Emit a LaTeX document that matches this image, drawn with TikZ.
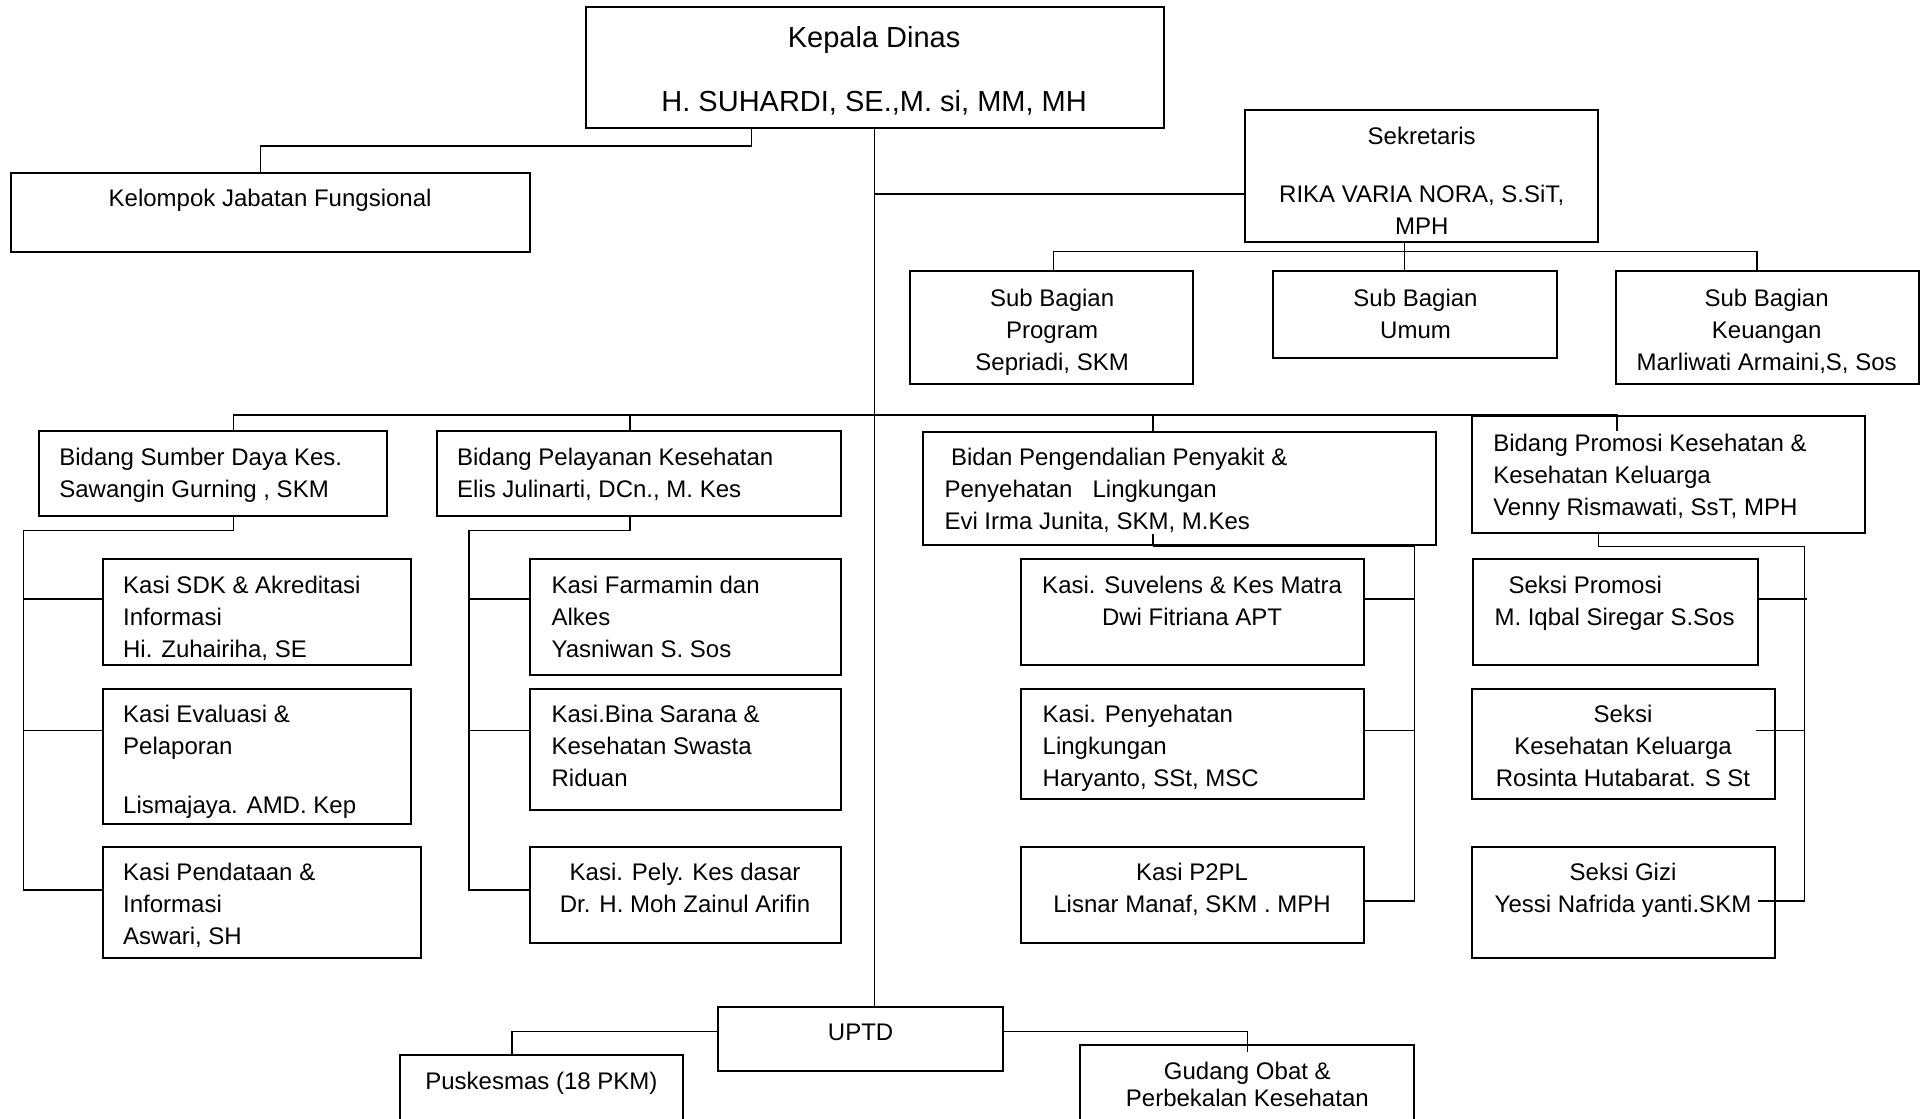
\documentclass[tikz,border=0pt]{standalone}
\usepackage{fontspec}
\setmainfont{Liberation Sans}
\usetikzlibrary{fit}

\tikzset{
  box/.style={draw, line width=1pt, inner sep=0pt},
  txt/.style={inner sep=0pt, anchor=north west, align=left, font=\fontsize{12}{16}\selectfont},
  ctxt/.style={txt, anchor=north, align=center},
  link/.style={line width=0.7pt},
}

\begin{document}
\begin{tikzpicture}[x=0.61385pt, y=-0.61385pt]
  \useasboundingbox (0,0) rectangle (1568,911);

  % boxes
  \node[box, fit={(477,6)(948,104)}] (kepala) {};
  \node[box, fit={(9,141)(432,205)}] (kelompok) {};
  \node[box, fit={(1014,90)(1302,197)}] (sekr) {};
  \node[box, fit={(741,221)(972,313)}] (prog) {};
  \node[box, fit={(1037,221)(1268,292)}] (umum) {};
  \node[box, fit={(1316,221)(1563,313)}] (keu) {};
  \node[box, fit={(32,351)(315,420)}] (sdm) {};
  \node[box, fit={(356,351)(685,420)}] (yan) {};
  \node[box, fit={(752,352)(1170,444)}] (p2) {};
  \node[box, fit={(1199,339)(1519,434)}] (promkes) {};
  \node[box, fit={(84,455)(335,542)}] (sdk) {};
  \node[box, fit={(84,561)(335,671)}] (eval) {};
  \node[box, fit={(84,690)(343,780)}] (pend) {};
  \node[box, fit={(432,455)(685,550)}] (farm) {};
  \node[box, fit={(432,561)(685,660)}] (bina) {};
  \node[box, fit={(432,690)(685,768)}] (pely) {};
  \node[box, fit={(832,455)(1111,542)}] (suv) {};
  \node[box, fit={(832,561)(1111,651)}] (penyl) {};
  \node[box, fit={(832,690)(1111,768)}] (p2pl) {};
  \node[box, fit={(1200,455)(1432,542)}] (prom) {};
  \node[box, fit={(1199,561)(1446,651)}] (kk) {};
  \node[box, fit={(1199,690)(1446,780)}] (gizi) {};
  \node[box, fit={(585,820)(817,872)}] (uptd) {};
  \node[box, fit={(326,859)(556,916)}] (pusk) {};
  \node[box, fit={(880,851)(1152,916)}] (gudang) {};

  % texts
  \node[ctxt, font=\fontsize{14.5}{17.5}\selectfont] (kepala-t) at (712,21) {Kepala Dinas\\[14.8pt]H. SUHARDI, SE.,M. si, MM, MH};
  \node[ctxt] (kelompok-t) at (220,154) {Kelompok Jabatan Fungsional};
  \node[ctxt] (sekr-t) at (1158,103) {Sekretaris\\[12.9pt]RIKA VARIA NORA, S.SiT,\\MPH};
  \node[ctxt] (prog-t) at (857,235) {Sub Bagian\\Program\\Sepriadi, SKM};
  \node[ctxt] (umum-t) at (1153,235) {Sub Bagian\\Umum};
  \node[ctxt] (keu-t) at (1439,235) {Sub Bagian\\Keuangan\\Marliwati Armaini,S, Sos};
  \node[txt] (sdm-t) at (48,365) {Bidang Sumber Daya Kes.\\Sawangin Gurning , SKM};
  \node[txt] (yan-t) at (372,365) {Bidang Pelayanan Kesehatan\\Elis Julinarti, DCn., M. Kes};
  \node[txt] (p2-t) at (769,365) {\hspace*{3.3pt}Bidan Pengendalian Penyakit \&\\Penyehatan~~~Lingkungan\\Evi Irma Junita, SKM, M.Kes};
  \node[txt] (promkes-t) at (1216,353) {Bidang Promosi Kesehatan \&\\Kesehatan Keluarga\\Venny Rismawati, SsT, MPH};
  \node[txt] (sdk-t) at (100,469) {Kasi SDK \& Akreditasi\\Informasi\\Hi. Zuhairiha, SE};
  \node[txt] (eval-t) at (100,574) {Kasi Evaluasi \&\\Pelaporan\\[13.5pt]Lismajaya. AMD. Kep};
  \node[txt] (pend-t) at (100,703) {Kasi Pendataan \&\\Informasi\\Aswari, SH};
  \node[txt] (farm-t) at (449,469) {Kasi Farmamin dan\\Alkes\\Yasniwan S. Sos};
  \node[txt] (bina-t) at (449,574) {Kasi.Bina Sarana \&\\Kesehatan Swasta\\Riduan};
  \node[ctxt] (pely-t) at (558,703) {Kasi. Pely. Kes dasar\\Dr. H. Moh Zainul Arifin};
  \node[ctxt] (suv-t) at (971,469) {Kasi. Suvelens \& Kes Matra\\Dwi Fitriana APT};
  \node[txt] (penyl-t) at (849,574) {Kasi. Penyehatan\\Lingkungan\\Haryanto, SSt, MSC};
  \node[ctxt] (p2pl-t) at (971,703) {Kasi P2PL\\Lisnar Manaf, SKM . MPH};
  \node[txt] (prom-t) at (1217,469) {\hspace*{7pt}Seksi Promosi\\M. Iqbal Siregar S.Sos};
  \node[ctxt] (kk-t) at (1322,574) {Seksi\\Kesehatan Keluarga\\Rosinta Hutabarat. S St};
  \node[ctxt] (gizi-t) at (1322,703) {Seksi Gizi\\Yessi Nafrida yanti.SKM};
  \node[ctxt] (uptd-t) at (701,834) {UPTD};
  \node[ctxt] (pusk-t) at (441,873) {Puskesmas (18 PKM)};
  \node[ctxt] (gudang-t) at (1016,865) {Gudang Obat \&\\[-2.5pt]Perbekalan Kesehatan};

  % Kepala Dinas
  \draw[link] (kepala.south -| 612,0) |- (212,119) -- (kelompok.north -| 212,0);
  \draw[link] (kepala.south) -- (kepala.south |- uptd.north);
  \draw[link] (kepala.south |- 0,158) -- (sekr.west |- 0,158);

  % Sekretaris
  \draw[link] (sekr.south -| 1144,0) -- (umum.north -| 1144,0);
  \draw[link] (prog.north -| 858,0) -- (858,205) -- (1431,205) -- (keu.north -| 1431,0);

  % Bidang
  \draw[link] (sdm.north -| 190,0) |- (1317,338) -- ++(0,13);
  \draw[link] (yan.north -| 513,0) -- ++(0,-13);
  \draw[link] (p2.north -| 939,0) -- ++(0,-14);

  % Sumber Daya
  \draw[link] (sdm.south -| 190,0) |- (19,432) |- (pend.west |- 0,725);
  \draw[link] (19,488) -- (sdk.west |- 0,488);
  \draw[link] (19,595) -- (eval.west |- 0,595);

  % Pelayanan
  \draw[link] (yan.south -| 513,0) |- (382,432) |- (pely.west |- 0,725);
  \draw[link] (382,488) -- (farm.west |- 0,488);
  \draw[link] (382,595) -- (bina.west |- 0,595);

  % Pengendalian
  \draw[link] (p2.south -| 939,0) -- ++(0,-10);
  \draw[link] (p2.south -| 939,0) -| (1152,734) -- (p2pl.east |- 0,734);
  \draw[link] (1152,488) -- (suv.east |- 0,488);
  \draw[link] (1152,595) -- (penyl.east |- 0,595);

  % Promosi
  \draw[link] (promkes.south -| 1302,0) |- (1470,445) -- (1470,734) -- (1432,734);
  \draw[link] (1472,488) -- (prom.east |- 0,488);
  \draw[link] (1470,595) -- (1430,595);

  % UPTD
  \draw[link] (uptd.west |- 0,840) -| (pusk.north -| 417,0);
  \draw[link] (uptd.east |- 0,840) -| ([shift={(0,7)}]gudang.north);
\end{tikzpicture}
\end{document}
